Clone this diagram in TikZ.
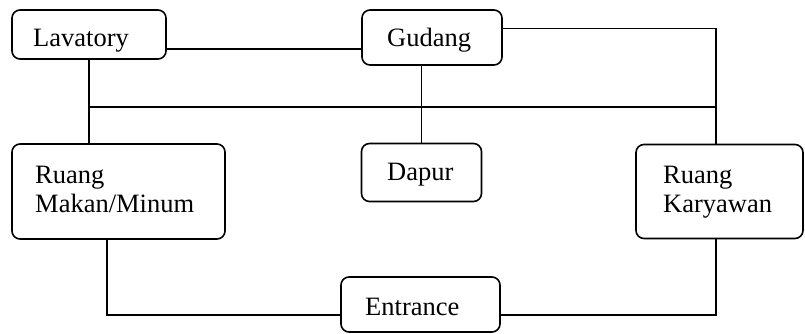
\documentclass[tikz,border=0pt]{standalone}
\usepackage{fontspec}
\setmainfont{Liberation Serif}
\begin{document}
\begin{tikzpicture}[x=1pt,y=-1pt,
  room/.style={draw, rounded corners=8pt, line width=1.6pt, inner sep=0pt},
  wire/.style={line width=1.3pt},
  lbl/.style={anchor=base west, inner sep=0pt, font=\fontsize{26.5}{30}\selectfont}]
  \useasboundingbox (0,0) rectangle (805,334);

  % rooms
  \node[room, minimum width=154pt, minimum height=49pt] (lav)   at (89,34.5)    {};
  \node[room, minimum width=140pt, minimum height=55pt] (gud)   at (432,37.5)   {};
  \node[room, minimum width=213pt, minimum height=95pt] (makan) at (118.5,191.5) {};
  \node[room, minimum width=120pt, minimum height=58pt] (dapur) at (421.5,172.5) {};
  \node[room, minimum width=167pt, minimum height=94pt] (kary)  at (719.5,191.5) {};
  \node[room, minimum width=159pt, minimum height=55pt] (ent)   at (420.5,304.5) {};

  % room names
  \node[lbl] (lavT)   at (33,47)  {Lavatory};
  \node[lbl] (gudT)   at (387,47) {Gudang};
  \node[lbl] (dapurT) at (387,180) {Dapur};
  \node[lbl] (makT1)  at (35,183) {Ruang};
  \node[lbl] (makT2)  at (35,212) {Makan/Minum};
  \node[lbl] (karT1)  at (663,183) {Ruang};
  \node[lbl] (karT2)  at (663,212) {Karyawan};
  \node[lbl] (entT)   at (365,315) {Entrance};

  % routing points
  \coordinate (lg)  at (0,49);
  \coordinate (bus) at (716,107);
  \coordinate (mb)  at (107,315);
  \coordinate (kb)  at (716,315);

  % connections
  \draw[wire] (lav.east |- lg) -- (gud.west |- lg);
  \draw[wire] ([yshift=9pt]gud.east) -| (kary.north -| bus);
  \draw[wire] (lav.south |- bus) -- (bus);
  \draw[wire] (lav.south) -- (lav.south |- makan.north);
  \draw[wire] (dapur.north |- gud.south) -- (dapur.north);
  \draw[wire] (makan.south -| mb) |- (ent.west |- mb);
  \draw[wire] (ent.east |- kb) -| (kary.south -| kb);
\end{tikzpicture}
\end{document}
